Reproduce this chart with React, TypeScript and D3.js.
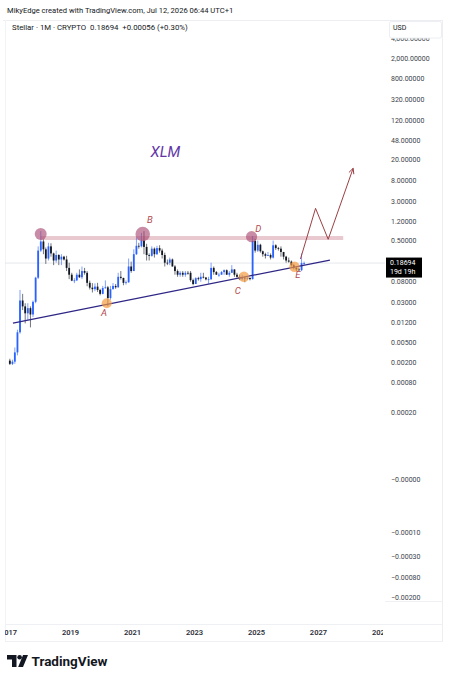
import React from "react";
import * as d3 from "d3";

const W = 451;
const H = 680;

// ---- monthly candles, Jan 2017 .. Jul 2026 ----
const firstMonth = "2017-01-01";
const lastMonthExclusive = "2026-08-01";

const opens = [
  0.0022, 0.0019, 0.0021, 0.0032, 0.008, 0.034, 0.026, 0.019, 0.024, 0.018, 0.032, 0.096,
  0.33, 0.5, 0.35, 0.23, 0.4, 0.29, 0.21, 0.27, 0.22, 0.25, 0.22, 0.15,
  0.11, 0.084, 0.085, 0.11, 0.098, 0.13, 0.12, 0.076, 0.061, 0.057, 0.064, 0.055,
  0.046, 0.06, 0.062, 0.038, 0.057, 0.066, 0.062, 0.1, 0.095, 0.076, 0.078, 0.16,
  0.13, 0.28, 0.41, 0.4, 0.52, 0.39, 0.27, 0.26, 0.36, 0.28, 0.37, 0.33,
  0.27, 0.19, 0.19, 0.22, 0.16, 0.13, 0.11, 0.12, 0.11, 0.12, 0.12, 0.086,
  0.072, 0.094, 0.09, 0.1, 0.097, 0.089, 0.0895, 0.15, 0.124, 0.11, 0.11, 0.124,
  0.135, 0.11, 0.12, 0.14, 0.11, 0.1, 0.09, 0.096, 0.093, 0.095, 0.09, 0.51,
  0.33, 0.43, 0.32, 0.28, 0.26, 0.27, 0.24, 0.42, 0.37, 0.36, 0.31, 0.25,
  0.21, 0.2, 0.17, 0.15, 0.14, 0.135, 0.18638,
];
const highs = [
  0.0024, 0.0023, 0.004, 0.009, 0.055, 0.046, 0.03, 0.03, 0.026, 0.034, 0.1, 0.4,
  0.8, 0.55, 0.38, 0.47, 0.46, 0.3, 0.33, 0.28, 0.28, 0.26, 0.26, 0.19,
  0.12, 0.094, 0.12, 0.14, 0.16, 0.15, 0.13, 0.084, 0.075, 0.074, 0.076, 0.058,
  0.066, 0.085, 0.066, 0.066, 0.075, 0.072, 0.12, 0.13, 0.096, 0.085, 0.23, 0.2,
  0.35, 0.6, 0.47, 0.74, 0.8, 0.45, 0.29, 0.4, 0.38, 0.41, 0.42, 0.36,
  0.3, 0.22, 0.24, 0.23, 0.17, 0.14, 0.13, 0.13, 0.13, 0.13, 0.13, 0.092,
  0.098, 0.1, 0.12, 0.12, 0.098, 0.1, 0.19, 0.16, 0.13, 0.12, 0.13, 0.14,
  0.14, 0.13, 0.17, 0.14, 0.12, 0.11, 0.11, 0.1, 0.1, 0.097, 0.64, 0.56,
  0.52, 0.45, 0.33, 0.3, 0.31, 0.29, 0.52, 0.44, 0.39, 0.4, 0.31, 0.26,
  0.24, 0.21, 0.18, 0.16, 0.15, 0.29, 0.2,
];
const lows = [
  0.0018, 0.0018, 0.0019, 0.0028, 0.0075, 0.022, 0.012, 0.014, 0.01, 0.016, 0.03, 0.09,
  0.31, 0.28, 0.18, 0.21, 0.25, 0.17, 0.19, 0.17, 0.17, 0.21, 0.13, 0.09,
  0.082, 0.075, 0.083, 0.095, 0.09, 0.11, 0.065, 0.056, 0.049, 0.052, 0.05, 0.043,
  0.045, 0.058, 0.026, 0.035, 0.056, 0.058, 0.061, 0.088, 0.068, 0.07, 0.076, 0.12,
  0.13, 0.27, 0.36, 0.38, 0.28, 0.21, 0.21, 0.25, 0.24, 0.27, 0.3, 0.23,
  0.16, 0.17, 0.17, 0.16, 0.11, 0.1, 0.1, 0.1, 0.1, 0.11, 0.08, 0.068,
  0.072, 0.084, 0.08, 0.093, 0.085, 0.073, 0.087, 0.11, 0.11, 0.1, 0.11, 0.11,
  0.11, 0.1, 0.12, 0.1, 0.096, 0.086, 0.085, 0.078, 0.087, 0.085, 0.088, 0.3,
  0.31, 0.3, 0.25, 0.23, 0.26, 0.22, 0.23, 0.34, 0.33, 0.25, 0.22, 0.19,
  0.19, 0.16, 0.14, 0.13, 0.13, 0.13, 0.17,
];
const closes = [
  0.0019, 0.0021, 0.0032, 0.008, 0.034, 0.026, 0.019, 0.024, 0.018, 0.032, 0.096, 0.33,
  0.5, 0.35, 0.23, 0.4, 0.29, 0.21, 0.27, 0.22, 0.25, 0.22, 0.15, 0.11,
  0.084, 0.085, 0.11, 0.098, 0.13, 0.12, 0.076, 0.061, 0.057, 0.064, 0.055, 0.046,
  0.06, 0.062, 0.038, 0.057, 0.066, 0.062, 0.1, 0.095, 0.076, 0.078, 0.16, 0.13,
  0.28, 0.41, 0.4, 0.52, 0.39, 0.27, 0.26, 0.36, 0.28, 0.37, 0.33, 0.27,
  0.19, 0.185, 0.22, 0.16, 0.13, 0.11, 0.12, 0.11, 0.12, 0.118, 0.086, 0.072,
  0.094, 0.09, 0.1, 0.097, 0.089, 0.0895, 0.15, 0.124, 0.11, 0.11, 0.124, 0.135,
  0.11, 0.12, 0.14, 0.11, 0.1, 0.09, 0.096, 0.093, 0.095, 0.09, 0.51, 0.33,
  0.43, 0.32, 0.28, 0.26, 0.27, 0.24, 0.42, 0.37, 0.36, 0.31, 0.25, 0.21,
  0.2, 0.17, 0.15, 0.14, 0.135, 0.18638, 0.18694,
];

const lastPrice = 0.18694;
const lastPriceLabel = "0.18694";
const countdownLabel = "19d 19h";

// ---- axes ----
const priceTickValues = [5000, 2000, 800, 320, 120, 48, 20, 8, 3, 1.2, 0.5, 0.08, 0.03, 0.012, 0.005, 0.002, 0.0008, 0.0002];
const priceTickLabels = ["4,000.00000", "2,000.00000", "800.00000", "320.00000", "120.00000", "48.00000", "20.00000", "8.00000", "3.00000", "1.20000", "0.50000", "0.08000", "0.03000", "0.01200", "0.00500", "0.00200", "0.00080", "0.00020"];
const negTickMagnitudes = [0.0000086, 0.0001, 0.0003, 0.0008, 0.002];
const negTickLabels = ["\u22120.00000", "\u22120.00010", "\u22120.00030", "\u22120.00080", "\u22120.00200"];
const yearTicks = ["2017", "2019", "2021", "2023", "2025", "2027", "2029"];

// ---- drawings (date, price) ----
const resistanceBand = { from: "2018-01-15", to: "2027-10-20", top: 0.64, bottom: 0.535 };
const trendLine = [
  { date: "2017-02-22", price: 0.0122 },
  { date: "2027-05-16", price: 0.2148 },
];
const projection = [
  { date: "2026-06-03", price: 0.225 },
  { date: "2026-11-28", price: 2.26 },
  { date: "2027-04-26", price: 0.552 },
  { date: "2028-02-14", price: 14.0 },
];
const pinkCircles = [
  { date: "2018-01-15", price: 0.702, r: 6 },
  { date: "2021-05-01", price: 0.7, r: 7.3 },
  { date: "2024-11-04", price: 0.621, r: 5.6 },
];
const orangeCircles = [
  { date: "2020-03-03", price: 0.0299, r: 5 },
  { date: "2024-08-06", price: 0.1005, r: 5.2 },
  { date: "2026-03-25", price: 0.158, r: 5.2 },
];
const pointLabels = [
  { text: "A", date: "2020-01-30", price: 0.0193 },
  { text: "B", date: "2021-07-25", price: 1.33 },
  { text: "C", date: "2024-05-24", price: 0.0548 },
  { text: "D", date: "2025-01-22", price: 0.91 },
  { text: "E", date: "2026-05-04", price: 0.1086 },
];
const titleLabel = { text: "XLM", date: "2022-01-24", price: 29.4 };

const FONT = "Roboto, 'Liberation Sans', Arial, sans-serif";
const UP = "#2962ff";
const DOWN = "#131722";

const toDate = (s: string) => new Date(s + "T00:00:00Z");

export default function App() {
  const x = d3
    .scaleUtc()
    .domain([toDate("2019-01-01"), toDate("2025-01-01")])
    .range([70.5, 256.5]);
  const y = d3.scaleLog().domain([2000, 0.0002]).range([59.3, 413.3]);
  const yNeg = d3.scaleLog().domain([0.0001, 0.002]).range([533.3, 598.3]);

  const months = d3.utcMonth.range(toDate(firstMonth), toDate(lastMonthExclusive));
  const candles = months.map((m, i) => ({
    t: d3.utcDay.offset(m, 15),
    o: opens[i],
    h: highs[i],
    l: lows[i],
    c: closes[i],
  }));

  const plotLeft = 5;
  const plotRight = 385;
  const plotTop = 21;
  const plotBottom = 624;

  const line = d3
    .line<{ date: string; price: number }>()
    .x((p) => x(toDate(p.date)))
    .y((p) => y(p.price));

  const pa = projection[projection.length - 2];
  const pb = projection[projection.length - 1];
  const ax = x(toDate(pa.date));
  const ay = y(pa.price);
  const bx = x(toDate(pb.date));
  const by = y(pb.price);
  const ang = Math.atan2(by - ay, bx - ax);
  const headLen = 6;
  const h1 = [bx - headLen * Math.cos(ang - 0.45), by - headLen * Math.sin(ang - 0.45)];
  const h2 = [bx - headLen * Math.cos(ang + 0.45), by - headLen * Math.sin(ang + 0.45)];

  const yLast = y(lastPrice);

  return (
    <div style={{ position: "absolute", left: 0, top: 0 }}>
      <svg width={W} height={H} style={{ display: "block", background: "#ffffff" }}>
        <defs>
          <clipPath id="plotClip">
            <rect x={plotLeft} y={plotTop} width={plotRight - plotLeft} height={plotBottom - plotTop} />
          </clipPath>
          <clipPath id="timeClip">
            <rect x={plotLeft} y={plotBottom} width={plotRight - plotLeft - 2} height={17} />
          </clipPath>
        </defs>
        <rect x={0} y={0} width={W} height={H} fill="#ffffff" />

        <text x={7} y={10} fontFamily={FONT} fontSize={7.6} fill="#131722" dominantBaseline="central">
          MikyEdge created with TradingView.com, Jul 12, 2026 06:44 UTC+1
        </text>

        <line x1={3} x2={443} y1={20.5} y2={20.5} stroke="#eceef2" />
        <line x1={442.5} x2={442.5} y1={20} y2={641} stroke="#eceef2" />
        <line x1={5.5} x2={5.5} y1={20} y2={641} stroke="#f2f3f6" />
        <line x1={5} x2={443} y1={624.5} y2={624.5} stroke="#eef0f3" />
        <line x1={5} x2={443} y1={641.5} y2={641.5} stroke="#eef0f3" />
        <line x1={385} x2={443} y1={601.5} y2={601.5} stroke="#eef0f3" />

        <g clipPath="url(#plotClip)">
          <line x1={0} x2={plotRight} y1={yLast} y2={yLast} stroke="#dfe1e6" strokeWidth={0.8} />

          <rect
            x={x(toDate(resistanceBand.from))}
            y={y(resistanceBand.top)}
            width={x(toDate(resistanceBand.to)) - x(toDate(resistanceBand.from))}
            height={y(resistanceBand.bottom) - y(resistanceBand.top)}
            fill="rgba(196, 110, 128, 0.38)"
          />

          {candles.map((d, i) => {
            const cx = x(d.t);
            const up = d.c >= d.o;
            const col = up ? UP : DOWN;
            const yTop = y(Math.max(d.o, d.c));
            const yBot = y(Math.min(d.o, d.c));
            return (
              <g key={i}>
                <line x1={cx} x2={cx} y1={y(d.h)} y2={y(d.l)} stroke={col} strokeWidth={0.6} />
                <rect x={cx - 0.9} y={yTop} width={1.8} height={Math.max(0.8, yBot - yTop)} fill={col} />
              </g>
            );
          })}

          <path d={line(trendLine) || ""} fill="none" stroke="#2e2685" strokeWidth={1.3} />

          {pinkCircles.map((c, i) => (
            <circle key={"p" + i} cx={x(toDate(c.date))} cy={y(c.price)} r={c.r} fill="#a8456f" fillOpacity={0.62} />
          ))}
          {orangeCircles.map((c, i) => (
            <circle key={"o" + i} cx={x(toDate(c.date))} cy={y(c.price)} r={c.r} fill="#f59a3c" fillOpacity={0.68} />
          ))}

          <path d={line(projection) || ""} fill="none" stroke="#9c3f45" strokeWidth={1} />
          <path d={`M${h1[0]},${h1[1]} L${bx},${by} L${h2[0]},${h2[1]}`} fill="none" stroke="#9c3f45" strokeWidth={1} />

          {pointLabels.map((l, i) => (
            <text
              key={"l" + i}
              x={x(toDate(l.date))}
              y={y(l.price)}
              fontFamily={FONT}
              fontSize={9.5}
              fontStyle="italic"
              fill="#b24a4f"
              textAnchor="middle"
              dominantBaseline="central"
            >
              {l.text}
            </text>
          ))}
          <text
            x={x(toDate(titleLabel.date))}
            y={y(titleLabel.price)}
            fontFamily={FONT}
            fontSize={15}
            fontStyle="italic"
            fill="#6236a6"
            textAnchor="middle"
            dominantBaseline="central"
          >
            {titleLabel.text}
          </text>
        </g>

        <text x={12} y={27} fontFamily={FONT} fontSize={7.8} fill="#131722" dominantBaseline="central" style={{ whiteSpace: "pre" }}>
          {"Stellar · 1M · CRYPTO  0.18694  +0.00056 (+0.30%)"}
        </text>

        {priceTickValues.map((v, i) => (
          <text key={"pt" + i} x={391} y={y(v)} fontFamily={FONT} fontSize={7} fill="#3b3f4a" dominantBaseline="central">
            {priceTickLabels[i]}
          </text>
        ))}
        {negTickMagnitudes.map((v, i) => (
          <text key={"nt" + i} x={391} y={yNeg(v)} fontFamily={FONT} fontSize={7} fill="#3b3f4a" dominantBaseline="central">
            {negTickLabels[i]}
          </text>
        ))}

        <rect x={389.5} y={21.5} width={52} height={16.5} rx={2} fill="#ffffff" stroke="#eceef2" />
        <text x={393} y={28.3} fontFamily={FONT} fontSize={7} fill="#131722" dominantBaseline="central">
          USD
        </text>

        <rect x={386} y={yLast - 5.5} width={36} height={20} fill="#000000" />
        <text x={390} y={yLast} fontFamily={FONT} fontSize={7} fill="#ffffff" dominantBaseline="central">
          {lastPriceLabel}
        </text>
        <text x={390} y={yLast + 9} fontFamily={FONT} fontSize={7} fill="#ffffff" dominantBaseline="central">
          {countdownLabel}
        </text>

        <g clipPath="url(#timeClip)">
          {yearTicks.map((yr) => (
            <text
              key={yr}
              x={x(toDate(yr + "-01-01"))}
              y={632.5}
              fontFamily={FONT}
              fontSize={7.5}
              fontWeight={600}
              fill="#2a2e39"
              textAnchor="middle"
              dominantBaseline="central"
            >
              {yr}
            </text>
          ))}
        </g>

        <g fill="#131722">
          <path d="M7,655 H16.5 V667 H12 V659.5 H7 Z" />
          <circle cx={19.6} cy={657.3} r={2.3} />
          <path d="M23,655 H28 L23,667 H18.2 Z" />
        </g>
        <text x={31.5} y={661} fontFamily={FONT} fontSize={13.5} fontWeight={700} fill="#131722" dominantBaseline="central">
          TradingView
        </text>
      </svg>
    </div>
  );
}
